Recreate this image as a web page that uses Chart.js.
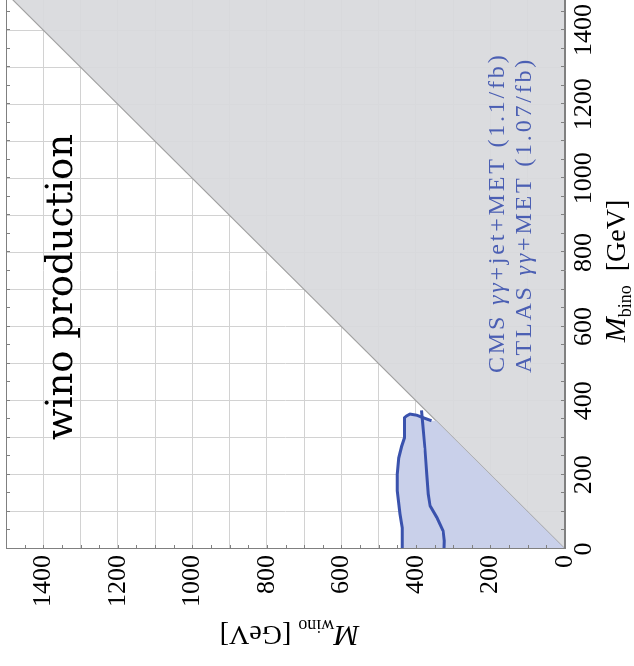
<!DOCTYPE html>
<html>
<head>
<meta charset="utf-8">
<script src="https://cdn.jsdelivr.net/npm/chart.js@4.4.1/dist/chart.umd.min.js"></script>
<style>
  html, body { margin: 0; padding: 0; background: #fff; overflow: hidden; }
  body { width: 634px; height: 666px; position: relative; }
  /* the plot is laid out landscape and turned a quarter to the left */
  #turn { position: absolute; left: 0; top: 0; width: 680px; height: 634px;
          transform-origin: 0 0; transform: translate(0, 666px) rotate(-90deg); }
</style>
</head>
<body>
<div id="turn"><canvas id="plot" width="680" height="634"></canvas></div>
<script>
const tickValues = [0, 200, 400, 600, 800, 1000, 1200, 1400];

// CMS gamma-gamma + jet + MET limit (outer contour)
const cmsBino = [0, 57, 94, 157, 202, 246, 278, 300, 354, 359, 364, 361, 354, 346];
const cmsWino = [437, 437, 443, 450, 450, 446, 438, 431, 431, 425, 416, 398, 380, 358];

// ATLAS gamma-gamma + MET limit (inner contour)
const atlasBino = [0, 22, 49, 85, 116, 148, 202, 273, 337, 374];
const atlasWino = [325, 324, 327, 344, 362, 367, 371, 376, 382, 385];

// bino heavier than wino
const edgeBino = [0, 1500, 1500];
const edgeWino = [0, 1500, 0];
const diagBino = [0, 1500];
const diagWino = [0, 1500];

const serif = "'Liberation Serif', 'Times New Roman', serif";
const blue = '#3a52ad';
Chart.defaults.font.family = serif;

const pts = (xs, ys) => xs.map((x, i) => ({ x: x, y: ys[i] }));
const cmsPts = pts(cmsBino, cmsWino);
const cmsEnd = cmsPts[cmsPts.length - 1];
const shadePts = cmsPts.concat([{ x: cmsEnd.x, y: cmsEnd.x }, { x: 0, y: 0 }]);

function drawParts(ctx, parts, x, y) {
  parts.forEach(p => {
    ctx.font = p.font;
    ctx.fillText(p.t, x, y + (p.dy || 0));
    x += ctx.measureText(p.t).width;
  });
}
function partsWidth(ctx, parts) {
  let w = 0;
  parts.forEach(p => { ctx.font = p.font; w += ctx.measureText(p.t).width; });
  return w;
}

// frame on all four sides with short inward ticks every 50
const frame = {
  id: 'frame',
  afterDatasetsDraw(chart) {
    const ctx = chart.ctx, a = chart.chartArea;
    const xs = chart.scales.x, ys = chart.scales.y;
    ctx.save();
    ctx.strokeStyle = '#808080';
    ctx.lineWidth = 1;
    ctx.strokeRect(a.left + 0.5, a.top + 0.5, a.right - a.left - 1, a.bottom - a.top - 1);
    ctx.beginPath();
    xs.ticks.forEach(t => {
      const p = Math.round(xs.getPixelForValue(t.value)) + 0.5;
      ctx.moveTo(p, a.bottom); ctx.lineTo(p, a.bottom - 4);
      ctx.moveTo(p, a.top); ctx.lineTo(p, a.top + 4);
    });
    ys.ticks.forEach(t => {
      const p = Math.round(ys.getPixelForValue(t.value)) + 0.5;
      ctx.moveTo(a.left, p); ctx.lineTo(a.left + 4, p);
      ctx.moveTo(a.right, p); ctx.lineTo(a.right - 4, p);
    });
    ctx.stroke();
    ctx.restore();
  }
};

const labels = {
  id: 'labels',
  afterDraw(chart) {
    const ctx = chart.ctx, a = chart.chartArea;
    const xs = chart.scales.x, ys = chart.scales.y;
    ctx.save();
    ctx.fillStyle = '#000';
    ctx.textBaseline = 'alphabetic';

    // x axis title
    const xt = [
      { t: 'M', font: 'italic 30px ' + serif },
      { t: 'bino', font: '18px ' + serif, dy: 6 },
      { t: '  [GeV]', font: '28px ' + serif }
    ];
    drawParts(ctx, xt, (a.left + a.right) / 2 - partsWidth(ctx, xt) / 2, 625);

    // y axis title
    const yt = [
      { t: 'M', font: 'italic 30px ' + serif },
      { t: 'wino', font: '18px ' + serif, dy: 6 },
      { t: ' [GeV]', font: '28px ' + serif }
    ];
    ctx.save();
    ctx.translate(40, (a.top + a.bottom) / 2 + 4);
    ctx.rotate(-Math.PI / 2);
    drawParts(ctx, yt, -partsWidth(ctx, yt) / 2, 0);
    ctx.restore();

    // production channel
    ctx.font = "37px 'DejaVu Serif', serif";
    ctx.fillText('wino production', xs.getPixelForValue(294), ys.getPixelForValue(1323));

    // experiment legend
    ctx.fillStyle = '#4b5fb3';
    ctx.letterSpacing = '2.8px';
    const lx = xs.getPixelForValue(475);
    drawParts(ctx, [
      { t: 'CMS ', font: '24px ' + serif },
      { t: 'γγ', font: 'italic 24px ' + serif },
      { t: '+jet+MET (1.1/fb)', font: '24px ' + serif }
    ], lx, ys.getPixelForValue(164));
    drawParts(ctx, [
      { t: 'ATLAS ', font: '24px ' + serif },
      { t: 'γγ', font: 'italic 24px ' + serif },
      { t: '+MET (1.07/fb)', font: '24px ' + serif }
    ], lx, ys.getPixelForValue(91));
    ctx.restore();
  }
};

const gridColor = c => (c.tick && c.tick.value % 100 === 0) ? '#d2d2d2' : 'rgba(0,0,0,0)';
const tickLabel = v => tickValues.includes(v) ? String(v) : '';

new Chart(document.getElementById('plot'), {
  type: 'line',
  data: {
    datasets: [
      { data: cmsPts, borderColor: blue, borderWidth: 3, pointRadius: 0, fill: false, order: 0 },
      { data: pts(atlasBino, atlasWino), borderColor: blue, borderWidth: 3, pointRadius: 0, fill: false, order: 1 },
      { data: shadePts, borderWidth: 0, borderColor: 'rgba(0,0,0,0)', backgroundColor: '#c9d0ea', pointRadius: 0, fill: 'shape', order: 3 },
      { data: pts(diagBino, diagWino), borderColor: '#a0a0a0', borderWidth: 1.2, pointRadius: 0, fill: false, order: 4 },
      { data: pts(edgeBino, edgeWino), borderWidth: 0, borderColor: 'rgba(0,0,0,0)', backgroundColor: 'rgba(216,217,221,0.93)', pointRadius: 0, fill: 'shape', order: 5 }
    ]
  },
  options: {
    responsive: false,
    devicePixelRatio: 1,
    animation: false,
    events: [],
    layout: { padding: { top: 6, right: 7, left: 0, bottom: 0 } },
    plugins: { legend: { display: false }, tooltip: { enabled: false } },
    elements: { line: { tension: 0 } },
    scales: {
      x: {
        type: 'linear', min: 0, max: 1500, position: 'bottom',
        afterFit: s => { s.height = 69; s.paddingLeft = 0; s.paddingRight = 0; },
        grid: { color: gridColor, drawTicks: false },
        border: { display: true, color: '#808080' },
        ticks: { stepSize: 50, autoSkip: false, maxRotation: 0, minRotation: 0, padding: 4,
                 color: '#000', font: { family: serif, size: 26 }, callback: tickLabel }
      },
      y: {
        type: 'linear', min: 0, max: 1500,
        afterFit: s => { s.width = 117; s.paddingTop = 0; s.paddingBottom = 0; },
        grid: { color: gridColor, drawTicks: false },
        border: { display: true, color: '#808080' },
        ticks: { stepSize: 50, autoSkip: false, padding: 6,
                 color: '#000', font: { family: serif, size: 26 }, callback: tickLabel }
      }
    }
  },
  plugins: [frame, labels]
});
</script>
</body>
</html>
